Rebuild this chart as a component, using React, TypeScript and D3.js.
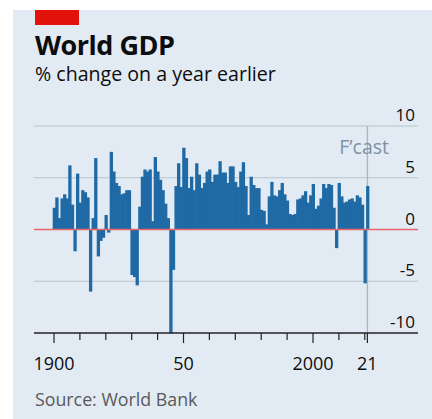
import React, { useRef, useEffect } from 'react';
import * as d3 from 'd3';

// world GDP, % change on a year earlier, 1900-2021 (2021 is a forecast)
const startYear = 1900;
const growth = [
    2.1, 3.1, 1.1, 3.0, 3.4, 3.0, 6.2, 2.4, -2.1, 5.4, // 1900s
    2.6, 3.8, 3.6, 3.1, -6.0, 1.1, 6.9, -2.6, -1.1, -0.8, // 1910s
    1.4, -0.3, 7.5, 5.6, 4.5, 4.2, 3.4, 3.5, 3.8, 3.8, // 1920s
    -4.4, -4.6, -5.4, 2.2, 5.1, 5.8, 5.6, 5.8, 0.8, 7.0, // 1930s
    5.6, 4.8, 3.8, 2.5, 1.1, -10.0, -3.9, 4.2, 6.4, 4.1, // 1940s
    7.9, 6.9, 4.0, 5.1, 3.8, 6.4, 5.3, 4.0, 4.5, 5.6, // 1950s
    5.8, 4.6, 5.3, 5.3, 6.6, 5.5, 5.5, 4.5, 6.1, 6.1, // 1960s
    4.6, 4.1, 5.6, 6.5, 4.2, 1.4, 5.1, 4.3, 4.0, 4.0, // 1970s
    1.9, 1.8, 0.5, 3.2, 4.6, 3.3, 3.2, 3.8, 4.5, 3.4, // 1980s
    2.8, 1.5, 1.4, 1.5, 2.9, 3.0, 3.3, 3.7, 2.6, 3.3, // 1990s
    4.4, 2.0, 2.3, 3.0, 4.4, 4.0, 4.4, 4.3, 2.1, -1.8, // 2000s
    4.5, 3.2, 2.6, 2.7, 2.9, 3.0, 2.7, 3.3, 3.1, 2.4, // 2010s
    -5.2, 4.2, // 2020, 2021
];

const yTicks = [10, 5, 0, -5, -10];
const xTicks = [1900, 1910, 1920, 1930, 1940, 1950, 1960, 1970, 1980, 1990, 2000, 2010, 2020, 2021];
const xLabels: [number, string][] = [[1900, '1900'], [1950, '50'], [2000, '2000'], [2021, '21']];
const forecastYear = 2021;

const W = 432;
const H = 419;
const FONT = '"Open Sans", "Noto Sans", sans-serif';

const GdpChart = () => {
    const svgRef = useRef<SVGSVGElement | null>(null);

    useEffect(() => {
        const svg = d3.select(svgRef.current);
        svg.selectAll('*').remove();

        const data = growth.map((v, i) => ({ year: startYear + i, value: v }));

        const x = d3.scaleLinear().domain([1900, 2000]).range([54, 313]);
        const y = d3.scaleLinear().domain([-10, 10]).range([333, 126]);
        const step = x(1901) - x(1900);
        const left = 34;
        const right = 418;

        // panel
        svg.append('rect').attr('x', 13).attr('y', 10).attr('width', W - 13).attr('height', H - 10).attr('fill', '#e2ebf3');
        svg.append('rect').attr('x', 35).attr('y', 10).attr('width', 44).attr('height', 15).attr('fill', '#e3120b');

        svg.append('text').attr('x', 35).attr('y', 55)
            .attr('font-family', FONT).attr('font-weight', 700).attr('font-size', 27)
            .attr('fill', '#0d0d0d').attr('letter-spacing', -0.5).text('World GDP');
        svg.append('text').attr('x', 35).attr('y', 81)
            .attr('font-family', FONT).attr('font-size', 19.6)
            .attr('fill', '#0d0d0d').text('% change on a year earlier');

        // gridlines
        svg.append('g').selectAll('line')
            .data(yTicks.filter(t => t !== 0 && t !== -10))
            .join('line')
            .attr('x1', left).attr('x2', right)
            .attr('y1', d => y(d)).attr('y2', d => y(d))
            .attr('stroke', '#b9c3cc').attr('stroke-width', 1);

        // forecast marker
        svg.append('line')
            .attr('x1', x(forecastYear)).attr('x2', x(forecastYear))
            .attr('y1', y(10)).attr('y2', y(-10))
            .attr('stroke', '#aab7c3').attr('stroke-width', 1.4);
        svg.append('text').attr('x', 389).attr('y', 154).attr('text-anchor', 'end')
            .attr('font-family', FONT).attr('font-size', 19.5)
            .attr('fill', '#7d92a3').text('F\u2019cast');

        // bars, slightly overlapped so neighbours merge into one block
        svg.append('g').selectAll('rect')
            .data(data)
            .join('rect')
            .attr('x', d => x(d.year) - step / 2)
            .attr('width', step + 0.7)
            .attr('y', d => y(Math.max(0, d.value)))
            .attr('height', d => Math.abs(y(d.value) - y(0)))
            .attr('fill', '#1f6aa5');

        // zero line
        svg.append('line')
            .attr('x1', left).attr('x2', right)
            .attr('y1', y(0)).attr('y2', y(0))
            .attr('stroke', '#e5656b').attr('stroke-width', 1.6);

        // y labels
        svg.append('g').selectAll('text')
            .data(yTicks)
            .join('text')
            .attr('x', 415).attr('y', d => y(d) - 5)
            .attr('text-anchor', 'end')
            .attr('font-family', FONT).attr('font-size', 17)
            .attr('fill', '#0d0d0d')
            .text(d => (d < 0 ? '-' + Math.abs(d) : String(d)));

        // x axis
        svg.append('line')
            .attr('x1', left).attr('x2', right)
            .attr('y1', y(-10)).attr('y2', y(-10))
            .attr('stroke', '#222').attr('stroke-width', 1.5);
        const labelled = new Set(xLabels.map(l => l[0]));
        svg.append('g').selectAll('line')
            .data(xTicks)
            .join('line')
            .attr('x1', d => x(d)).attr('x2', d => x(d))
            .attr('y1', y(-10)).attr('y2', d => y(-10) + (labelled.has(d) ? 10 : 7))
            .attr('stroke', '#222').attr('stroke-width', 1.2);
        svg.append('g').selectAll('text')
            .data(xLabels)
            .join('text')
            .attr('x', d => x(d[0])).attr('y', 370)
            .attr('text-anchor', 'middle')
            .attr('font-family', FONT).attr('font-size', 18)
            .attr('fill', '#0d0d0d')
            .text(d => d[1]);

        svg.append('text').attr('x', 35).attr('y', 406)
            .attr('font-family', FONT).attr('font-size', 17.8)
            .attr('fill', '#595959').text('Source: World Bank');
    }, []);

    return <svg ref={svgRef} width={W} height={H} style={{ position: 'absolute', left: 0, top: 0 }}></svg>;
};

export default function App() {
    return <GdpChart />;
}
